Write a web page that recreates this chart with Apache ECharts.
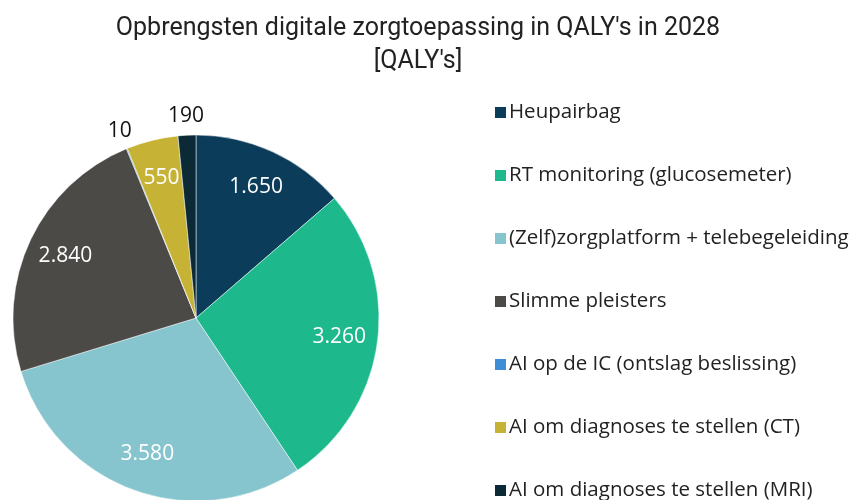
<!DOCTYPE html>
<html>
<head>
<meta charset="utf-8">
<script src="https://cdn.jsdelivr.net/npm/echarts@6/dist/echarts.min.js"></script>
<style>
  html, body { margin: 0; padding: 0; background: #fff; }
  #main { width: 856px; height: 500px; }
</style>
</head>
<body>
<div id="main"></div>
<script>
var names = ['Heupairbag', 'RT monitoring (glucosemeter)', '(Zelf)zorgplatform + telebegeleiding',
    'Slimme pleisters', 'AI op de IC (ontslag beslissing)', 'AI om diagnoses te stellen (CT)',
    'AI om diagnoses te stellen (MRI)'];
var values = [1650, 3260, 3580, 2840, 10, 550, 190];
var colors = ['#0b3d5b', '#1db98c', '#86c4ce', '#4b4a46', '#3e8ed6', '#c6b335', '#0b2a36'];
// which labels sit outside the pie
var outside = [false, false, false, false, true, false, true];

var font = 'Open Sans';

function fmt(v) {
    return String(v).replace(/\B(?=(\d{3})+(?!\d))/g, '.');
}

var chart = echarts.init(document.getElementById('main'));

var pieData = names.map(function (n, i) {
    return { name: n, value: values[i], itemStyle: { color: colors[i] } };
});
var innerLabels = names.map(function (n, i) {
    return { name: n, value: values[i], label: { show: !outside[i] } };
});
var outerLabels = names.map(function (n, i) {
    return { name: n, value: values[i], label: { show: outside[i] } };
});

option = {
    animation: false,
    title: {
        text: "Opbrengsten digitale zorgtoepassing in QALY's in 2028\n[QALY's]",
        left: 413,
        top: 7,
        textAlign: 'center',
        textStyle: {
            fontFamily: 'Roboto',
            fontWeight: 'normal',
            fontSize: 25,
            lineHeight: 33,
            color: '#222'
        }
    },
    legend: {
        orient: 'vertical',
        left: 488,
        top: 97,
        height: 600,
        icon: 'rect',
        itemWidth: 13,
        itemHeight: 13,
        itemGap: 42,
        data: names,
        textStyle: {
            fontFamily: font,
            fontSize: 20.5,
            color: '#222',
            padding: [0, 0, 0, -3]
        }
    },
    series: [{
            type: 'pie',
            center: [196, 318],
            radius: [0, 183],
            startAngle: 90,
            clockwise: true,
            silent: true,
            label: { show: false },
            labelLine: { show: false },
            itemStyle: { borderColor: '#fff', borderWidth: 0.5 },
            data: pieData
        },
        {
            type: 'pie',
            center: [196, 318],
            radius: [100, 183],
            startAngle: 90,
            clockwise: true,
            silent: true,
            legendHoverLink: false,
            itemStyle: { color: 'rgba(0,0,0,0)' },
            label: {
                position: 'inside',
                color: '#fff',
                fontFamily: font,
                fontSize: 21,
                formatter: function (p) { return fmt(p.value); }
            },
            labelLine: { show: false },
            data: innerLabels
        },
        {
            type: 'pie',
            center: [196, 318],
            radius: [189, 209],
            startAngle: 90,
            clockwise: true,
            silent: true,
            legendHoverLink: false,
            itemStyle: { color: 'rgba(0,0,0,0)' },
            label: {
                position: 'inside',
                color: '#111',
                fontFamily: font,
                fontSize: 21,
                formatter: function (p) { return fmt(p.value); }
            },
            labelLine: { show: false },
            data: outerLabels
        }
    ]
};
chart.setOption(option);
</script>
</body>
</html>
